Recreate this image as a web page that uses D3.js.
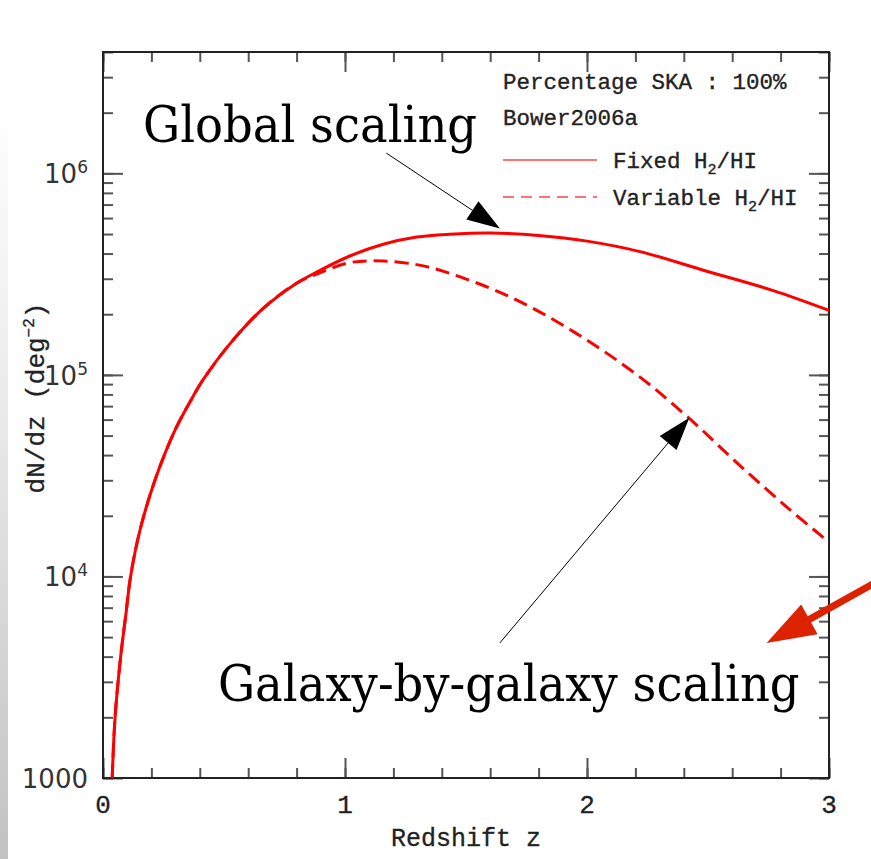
<!DOCTYPE html>
<html>
<head>
<meta charset="utf-8">
<script src="https://cdn.jsdelivr.net/npm/d3@7"></script>
<style>
  html, body { margin: 0; padding: 0; background: #fff; }
  svg { display: block; }
</style>
</head>
<body>
<svg id="chart" width="871" height="859"></svg>
<script>
/* ── Data ──────────────────────────────────────────────────── */
const zFixed = [0.038, 0.05, 0.073, 0.095, 0.114, 0.153, 0.215, 0.298, 0.367, 0.413,
                0.525, 0.662, 0.80, 0.883, 1.02, 1.158, 1.296, 1.434, 1.60, 1.80,
                2.0, 2.219, 2.495, 2.77, 3.0];
const nFixed = [1000, 2010, 4000, 6560, 10000, 17000, 30100, 53300, 76200, 94400,
                142900, 213800, 285100, 323600, 389000, 444600, 483100, 498900, 506000, 492000,
                461000, 409000, 327000, 262000, 208900];

const zVariable = [0.038, 0.05, 0.073, 0.095, 0.114, 0.153, 0.215, 0.298, 0.367, 0.413,
                   0.525, 0.662, 0.80, 0.883, 1.02, 1.158, 1.296, 1.393, 1.668, 1.944,
                   2.219, 2.426, 2.632, 2.839, 3.0];
const nVariable = [1000, 2010, 4000, 6560, 10000, 17000, 30100, 53300, 76200, 94400,
                   142900, 213800, 285100, 316200, 360600, 367300, 352400, 330400, 248300, 164000,
                   97500, 60300, 35500, 21400, 14800];

const xMajor = [0, 1, 2, 3];
const xMinor = d3.range(0, 3.001, 0.2);
const yMajor = [1000, 1e4, 1e5, 1e6];
const yMajorLabels = [['1000', ''], ['10', '4'], ['10', '5'], ['10', '6']];
const yMinor = [1, 2, 3, 4, 5, 6, 7, 8, 9]
  .flatMap(m => [1e3, 1e4, 1e5, 1e6].map(d => m * d))
  .filter(v => v <= 4e6);

const legendLines = ['Percentage SKA : 100%', 'Bower2006a'];
const seriesNames = [['Fixed H', '2', '/HI'], ['Variable H', '2', '/HI']];

// annotations, in data units: [z, dN/dz]
const globalArrow = { from: [1.171, 1.26e6], to: [1.64, 5.32e5] };
const galaxyArrow = { from: [1.64, 4680], to: [2.423, 61300] };
const redArrow    = { from: [3.19, 9290],  to: [2.742, 4670] };

/* ── Layout ────────────────────────────────────────────────── */
const L = 103, R = 829, T = 52, B = 778;
const RED = '#ff0000';
const MONO = '"Liberation Mono", "Courier New", monospace';

const svg = d3.select('#chart');
const x = d3.scaleLinear().domain([0, 3]).range([L, R]);
const y = d3.scaleLog().domain([1000, 4e6]).range([B, T]);

const defs = svg.append('defs');
const grad = defs.append('linearGradient')
  .attr('id', 'edge').attr('x1', 0).attr('y1', 0).attr('x2', 0).attr('y2', 1);
grad.append('stop').attr('offset', '0.12').attr('stop-color', '#ffffff');
grad.append('stop').attr('offset', '0.45').attr('stop-color', '#ececec');
grad.append('stop').attr('offset', '1').attr('stop-color', '#c2c2c2');
defs.append('clipPath').attr('id', 'plot')
  .append('rect').attr('x', L).attr('y', T).attr('width', R - L).attr('height', B - T);

// grey strip on the left edge of the slide
svg.append('rect').attr('x', 0).attr('y', 0).attr('width', 8).attr('height', 859)
  .attr('fill', 'url(#edge)');

/* ── Axes (ticks inward on all four sides) ─────────────────── */
function ticks(axis, values, size) {
  return axis.tickValues(values).tickSizeInner(-size).tickSizeOuter(0).tickFormat('');
}
const axes = svg.append('g').attr('class', 'axes');
[[d3.axisBottom, B, xMajor, 20], [d3.axisBottom, B, xMinor, 10],
 [d3.axisTop, T, xMajor, 20], [d3.axisTop, T, xMinor, 10]].forEach(([fn, ty, v, s]) => {
  axes.append('g').attr('transform', `translate(0,${ty})`).call(ticks(fn(x), v, s));
});
[[d3.axisLeft, L, yMajor, 20], [d3.axisLeft, L, yMinor, 10],
 [d3.axisRight, R, yMajor, 20], [d3.axisRight, R, yMinor, 10]].forEach(([fn, tx, v, s]) => {
  axes.append('g').attr('transform', `translate(${tx},0)`).call(ticks(fn(y), v, s));
});
axes.selectAll('.domain').remove();
axes.selectAll('.tick line').attr('stroke', '#555').attr('stroke-width', 2);

svg.append('rect').attr('x', L).attr('y', T).attr('width', R - L).attr('height', B - T)
  .attr('fill', 'none').attr('stroke', '#222').attr('stroke-width', 2);

// tick labels
svg.append('g').selectAll('text').data(xMajor).join('text')
  .attr('x', d => x(d)).attr('y', 813)
  .attr('text-anchor', 'middle')
  .style('font', `26px ${MONO}`).attr('fill', '#222')
  .attr('stroke', '#222').attr('stroke-width', 0.3)
  .text(d => d);

const yl = svg.append('g').selectAll('text').data(yMajor).join('text')
  .attr('x', 88).attr('y', d => y(d) + 10)
  .attr('text-anchor', 'end')
  .style('font', '26px "DejaVu Sans", Verdana, sans-serif').attr('fill', '#333');
yl.append('tspan').text((d, i) => yMajorLabels[i][0]);
yl.append('tspan').attr('dy', -10).style('font-size', '17px').text((d, i) => yMajorLabels[i][1]);

svg.append('text').attr('x', 466).attr('y', 846).attr('text-anchor', 'middle')
  .style('font', `25px ${MONO}`).attr('fill', '#222')
  .attr('stroke', '#222').attr('stroke-width', 0.3).text('Redshift z');

const ylab = svg.append('text')
  .attr('transform', 'translate(44,398) rotate(-90)').attr('text-anchor', 'middle')
  .style('font', `26px ${MONO}`).attr('fill', '#222')
  .attr('stroke', '#222').attr('stroke-width', 0.3);
ylab.append('tspan').text('dN/dz (deg');
ylab.append('tspan').attr('dy', -10).style('font-size', '16px').text('−2');
ylab.append('tspan').attr('dy', 10).text(')');

/* ── Curves ────────────────────────────────────────────────── */
const line = d3.line().x(d => x(d[0])).y(d => y(d[1])).curve(d3.curveCatmullRom.alpha(0.5));
const plot = svg.append('g').attr('clip-path', 'url(#plot)');
plot.append('path').datum(d3.zip(zFixed, nFixed))
  .attr('d', line).attr('fill', 'none').attr('stroke', RED).attr('stroke-width', 3);
plot.append('path').datum(d3.zip(zVariable, nVariable))
  .attr('d', line).attr('fill', 'none').attr('stroke', RED).attr('stroke-width', 3)
  .attr('stroke-dasharray', '14,7');

/* ── Legend ────────────────────────────────────────────────── */
const lg = svg.append('g').style('font', `22.5px ${MONO}`).attr('fill', '#222')
  .attr('stroke', '#222').attr('stroke-width', 0.35);
lg.selectAll('text.hdr').data(legendLines).join('text').attr('class', 'hdr')
  .attr('x', 503).attr('y', (d, i) => 89 + i * 36).text(d => d);
seriesNames.forEach((s, i) => {
  const yy = 160 + i * 37;
  lg.append('line').attr('x1', 503).attr('x2', 597).attr('y1', yy).attr('y2', yy)
    .attr('stroke', '#ff4444').attr('stroke-width', 1.6)
    .attr('stroke-dasharray', i ? '11,7' : null);
  const t = lg.append('text').attr('x', 613).attr('y', yy + 8);
  t.append('tspan').text(s[0]);
  t.append('tspan').attr('dy', 6).style('font-size', '15px').text(s[1]);
  t.append('tspan').attr('dy', -6).text(s[2]);
});

/* ── Annotations ───────────────────────────────────────────── */
function arrowHead(x1, y1, x2, y2, len, half) {
  const a = Math.atan2(y2 - y1, x2 - x1);
  const bx = x2 - len * Math.cos(a), by = y2 - len * Math.sin(a);
  const px = -Math.sin(a) * half, py = Math.cos(a) * half;
  return [[x2, y2], [bx + px, by + py], [bx - px, by - py]];
}
function arrow(g, a, opts) {
  const [x1, y1] = [x(a.from[0]), y(a.from[1])];
  const [x2, y2] = [x(a.to[0]), y(a.to[1])];
  const ang = Math.atan2(y2 - y1, x2 - x1);
  g.append('line').attr('x1', x1).attr('y1', y1)
    .attr('x2', x2 - opts.len * 0.8 * Math.cos(ang)).attr('y2', y2 - opts.len * 0.8 * Math.sin(ang))
    .attr('stroke', opts.color).attr('stroke-width', opts.width);
  g.append('polygon').attr('points', arrowHead(x1, y1, x2, y2, opts.len, opts.half).join(' '))
    .attr('fill', opts.color);
}
const ann = svg.append('g');
arrow(ann, globalArrow, { color: '#000', width: 1, len: 33, half: 11 });
arrow(ann, galaxyArrow, { color: '#000', width: 1, len: 33, half: 11 });
arrow(ann, redArrow, { color: '#dd2200', width: 7, len: 49, half: 17 });

const SERIF = '"DejaVu Serif", Georgia, serif';
ann.append('text').attr('x', 143).attr('y', 142)
  .attr('transform', 'translate(0,142) scale(1,1.08) translate(0,-142)')
  .style('font', `46.5px ${SERIF}`).attr('fill', '#000').text('Global scaling');
ann.append('text').attr('x', 218).attr('y', 701)
  .attr('transform', 'translate(0,701) scale(1,1.08) translate(0,-701)')
  .style('font', `46.5px ${SERIF}`).attr('fill', '#000').text('Galaxy-by-galaxy scaling');
</script>
</body>
</html>
